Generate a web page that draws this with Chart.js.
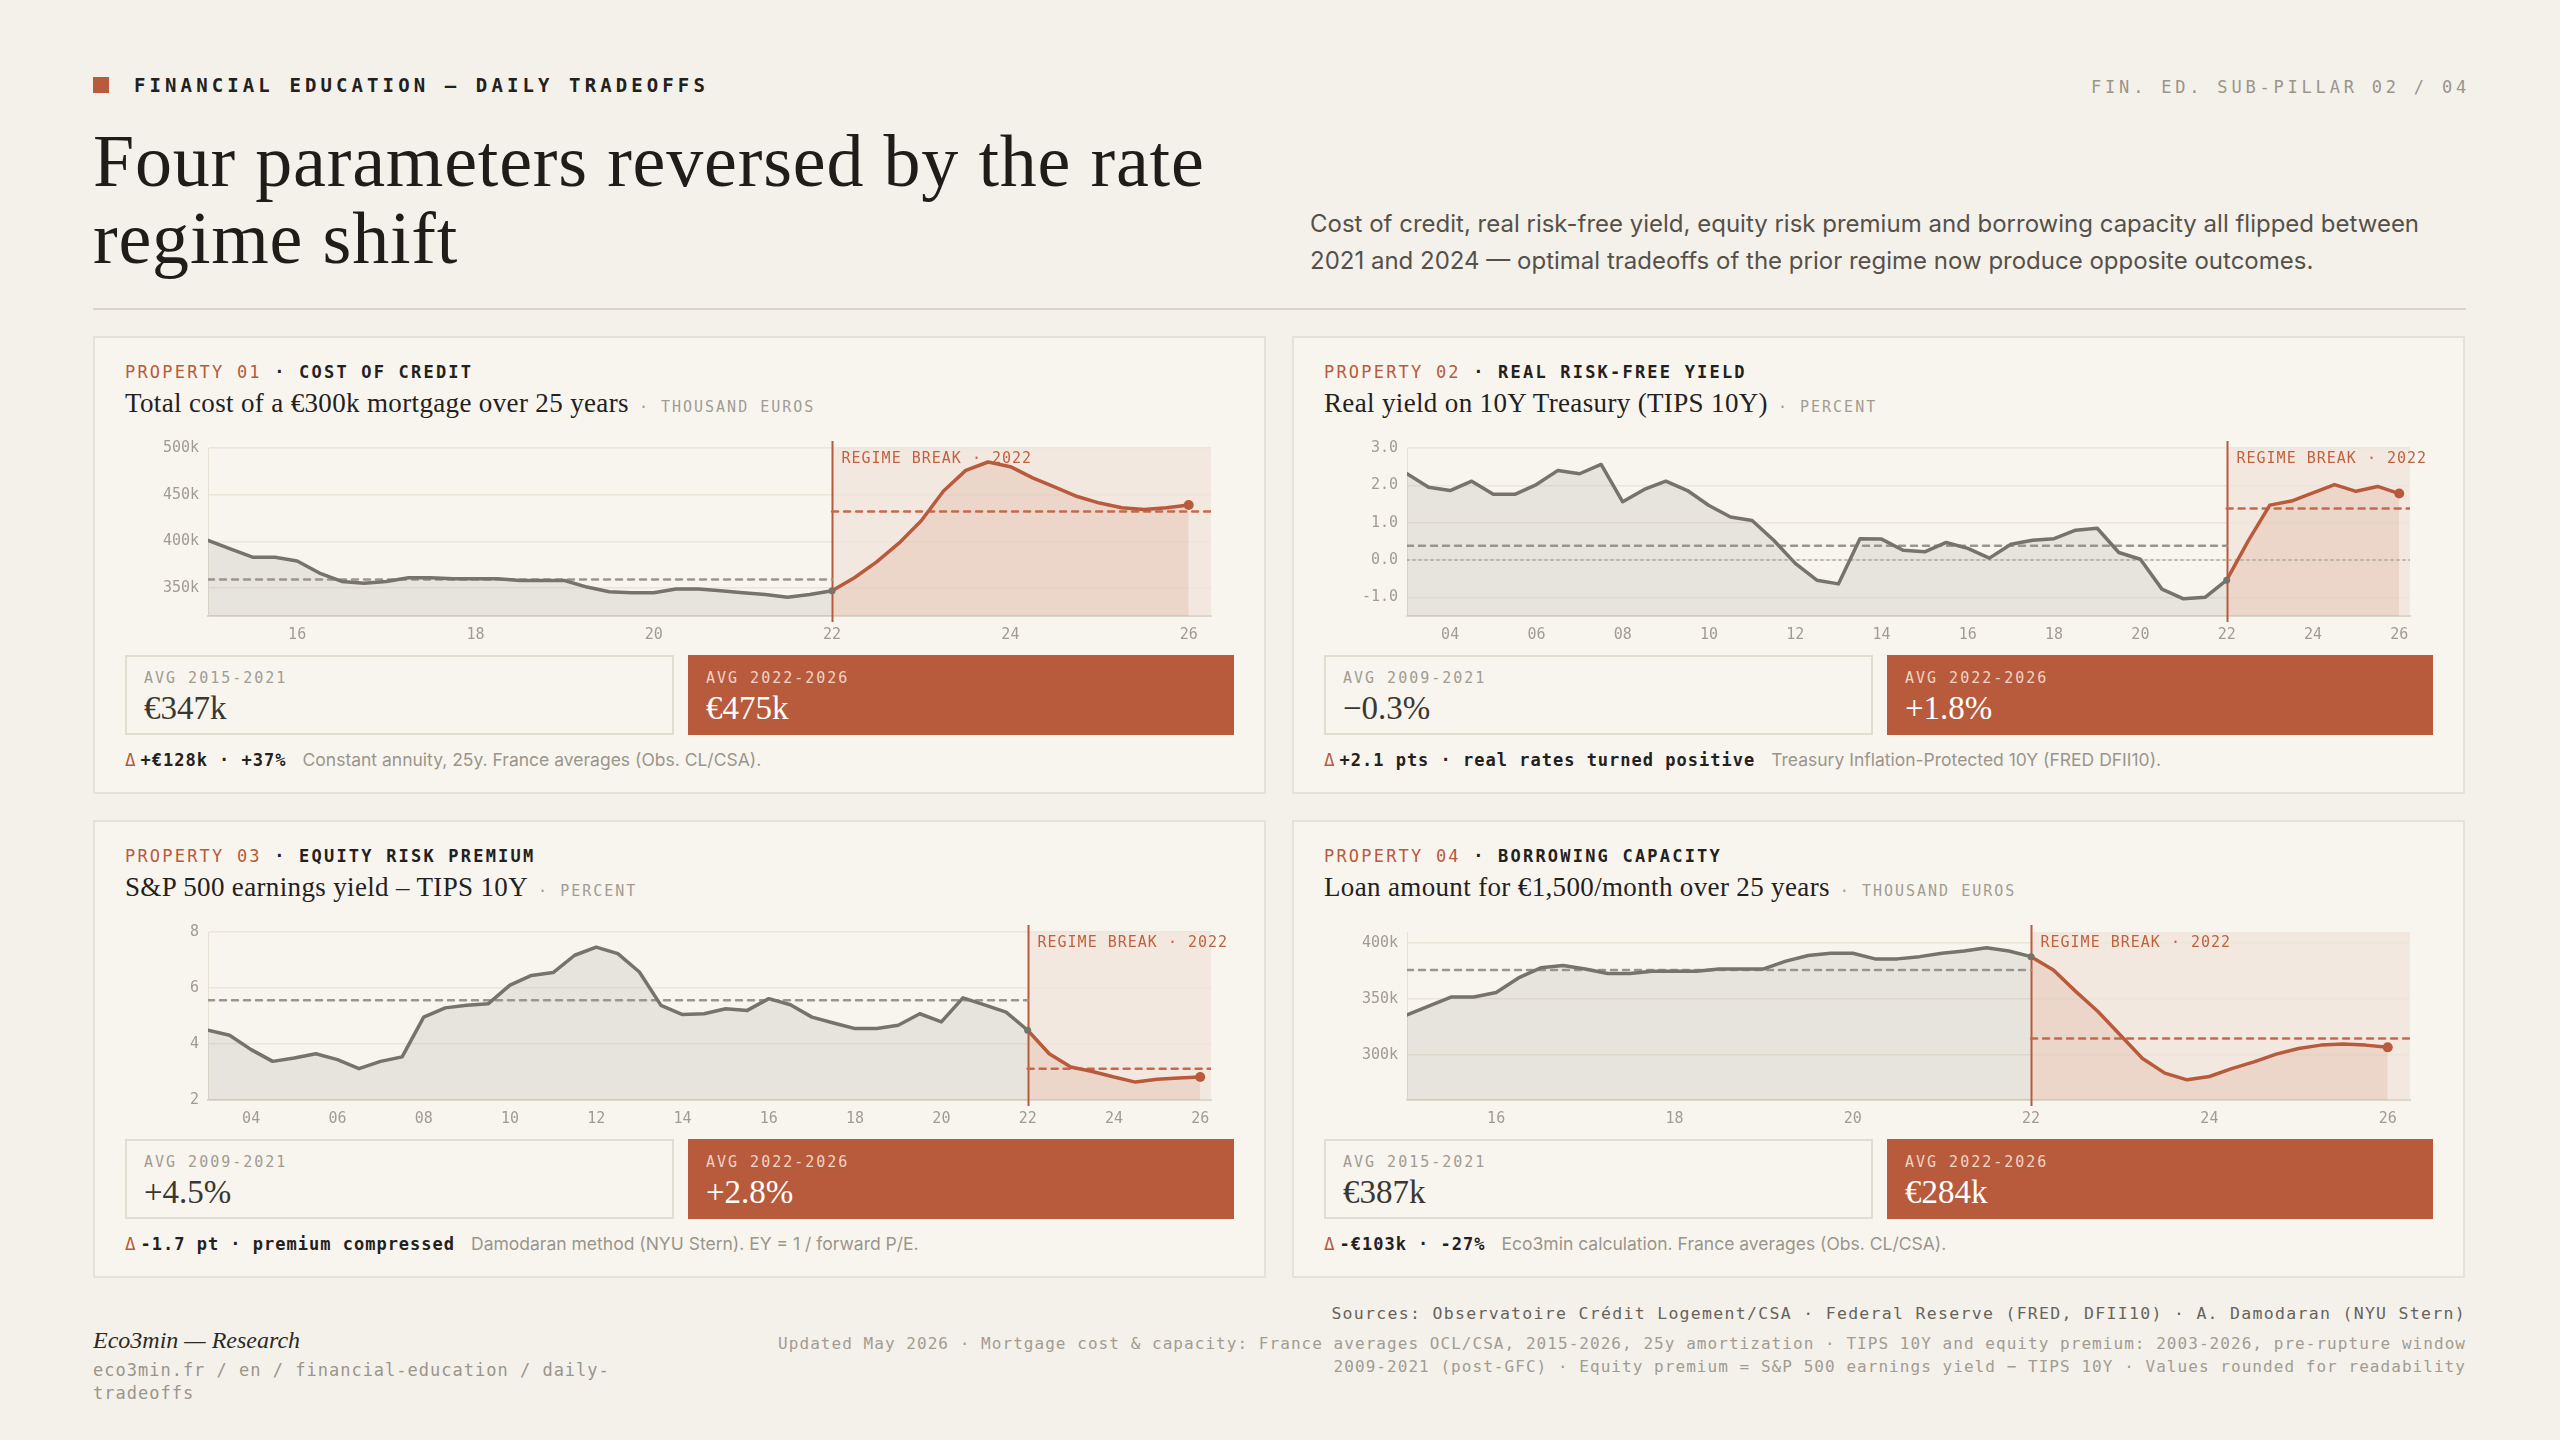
<!DOCTYPE html>
<html lang="en">
<head>
<meta charset="utf-8">
<title>Four parameters reversed by the rate regime shift</title>
<script src="https://cdn.jsdelivr.net/npm/chart.js@4.4.1/dist/chart.umd.min.js"></script>
<style>
  html, body { margin: 0; padding: 0; background: #f4f1ea; }
  body { width: 2560px; height: 1440px; position: relative; overflow: hidden; font-family: Inter, "Noto Sans", sans-serif; color: #23211d; }
  .abs { position: absolute; }
  .mono { font-family: "DejaVu Sans Mono", monospace; }
  .serif { font-family: "Liberation Serif", serif; }

  .kicker { left: 134px; top: 73px; font-size: 19px; line-height: 24px; font-weight: bold; letter-spacing: 4.1px; }
  .sq { left: 93px; top: 77px; width: 16px; height: 16px; background: #b85a3c; }
  .pillar { right: 90px; top: 76px; font-size: 17px; line-height: 22px; letter-spacing: 3.8px; color: #9a958b; }
  h1 { margin: 0; left: 93px; top: 123px; font-weight: normal; font-size: 74px; line-height: 77px; color: #1f1d1a; letter-spacing: 0.8px; }
  .lede { left: 1310px; top: 205px; font-size: 24px; line-height: 37px; color: #55514a; white-space: nowrap; }
  .rule { left: 93px; top: 308px; width: 2373px; height: 2px; background: #dcd6ca; }

  .panel { position: absolute; width: 1173px; height: 458px; background: #f8f5ef; border: 2px solid #e7e2d7; box-sizing: border-box; }
  .prop { left: 30px; top: 23px; font-size: 17px; line-height: 22px; letter-spacing: 2.2px; white-space: nowrap; }
  .prop .n { color: #b85a3c; }
  .prop .k { font-weight: bold; color: #23211d; }
  .ptitle { left: 30px; top: 49px; font-size: 27px; line-height: 32px; letter-spacing: 0.35px; color: #23211d; white-space: nowrap; }
  .ptitle .u { font-family: "DejaVu Sans Mono", monospace; font-size: 15px; letter-spacing: 2px; color: #a19c92; margin-left: 10px; }
  .cbox { left: 30px; top: 92px; width: 1115px; height: 220px; }
  .kpi { position: absolute; top: 317px; height: 80px; box-sizing: border-box; }
  .kpi.a { left: 30px; width: 549px; border: 2px solid #e2ddd1; background: #f8f5ef; }
  .kpi.b { left: 593px; width: 546px; background: #b85a3c; }
  .kpi .l { position: absolute; left: 17px; top: 12px; font-size: 15px; line-height: 18px; letter-spacing: 2px; color: #a19c92; }
  .kpi.b .l { left: 18px; top: 14px; color: #f1d3c4; }
  .kpi .v { position: absolute; left: 17px; top: 32px; font-size: 33px; line-height: 38px; color: #3a3732; }
  .kpi.b .v { left: 18px; top: 34px; color: #ffffff; }
  .delta { left: 30px; top: 411px; font-size: 17.5px; line-height: 22px; white-space: nowrap; }
  .delta .d { color: #b85a3c; font-family: "DejaVu Sans Mono", monospace; }
  .delta b { font-family: "DejaVu Sans Mono", monospace; font-weight: bold; font-size: 17px; letter-spacing: 1px; color: #23211d; }
  .delta .note { color: #9a958b; margin-left: 16px; }

  .brand { left: 93px; top: 1325px; font-size: 24px; line-height: 30px; font-style: italic; color: #2b2925; }
  .url { left: 93px; top: 1359px; width: 560px; font-size: 17px; line-height: 23px; letter-spacing: 1px; color: #9a958b; }
  .src { right: 94px; top: 1302px; font-size: 16.5px; line-height: 23px; letter-spacing: 1.3px; color: #67635b; white-space: nowrap; }
  .upd { right: 94px; top: 1332px; font-size: 16px; line-height: 23px; letter-spacing: 1.05px; color: #a19c92; text-align: right; white-space: nowrap; }
</style>
</head>
<body>

<div class="abs sq"></div>
<div class="abs mono kicker">FINANCIAL EDUCATION — DAILY TRADEOFFS</div>
<div class="abs mono pillar">FIN. ED. SUB-PILLAR 02 / 04</div>
<h1 class="abs serif">Four parameters reversed by the rate<br>regime shift</h1>
<div class="abs lede">Cost of credit, real risk-free yield, equity risk premium and borrowing capacity all flipped between<br>2021 and 2024 — optimal tradeoffs of the prior regime now produce opposite outcomes.</div>
<div class="abs rule"></div>

<div id="panels"></div>

<div class="abs serif brand">Eco3min — Research</div>
<div class="abs mono url">eco3min.fr / en / financial-education / daily-tradeoffs</div>
<div class="abs mono src">Sources: Observatoire Crédit Logement/CSA · Federal Reserve (FRED, DFII10) · A. Damodaran (NYU Stern)</div>
<div class="abs mono upd">Updated May 2026 · Mortgage cost &amp; capacity: France averages OCL/CSA, 2015-2026, 25y amortization · TIPS 10Y and equity premium: 2003-2026, pre-rupture window<br>2009-2021 (post-GFC) · Equity premium = S&amp;P 500 earnings yield − TIPS 10Y · Values rounded for readability</div>

<script>
/* ---------- datos ---------- */
// 01 coste del crédito, k€, trimestral 2015.0 -> 2022.0 / 2022.0 -> 2026.0
const costPre = [401, 392, 383, 383, 379, 366, 357, 355, 357, 361, 361, 360, 360, 360, 358, 358, 358, 351, 346, 345, 345, 349, 349, 347, 345, 343, 340, 343, 347];
const costPost = [347, 361, 378, 398, 422, 454, 476, 485, 480, 468, 458, 448, 441, 436, 434, 436, 439];
const costAvg = [359, 432];
const costYTicks = [350, 400, 450, 500];

// 02 TIPS 10Y, %, semestral 2003.0 -> 2022.0 / 2022.0 -> 2026.0
const yieldPre = [2.31, 1.95, 1.86, 2.11, 1.76, 1.76, 2.02, 2.40, 2.31, 2.56, 1.56, 1.89, 2.11, 1.86, 1.46, 1.15, 1.06, 0.53, -0.09, -0.54, -0.64, 0.57, 0.56, 0.26, 0.22, 0.47, 0.31, 0.05, 0.42, 0.53, 0.57, 0.80, 0.85, 0.20, 0.02, -0.78, -1.04, -1.00, -0.54];
const yieldPost = [-0.54, 0.51, 1.47, 1.58, 1.80, 2.02, 1.84, 1.97, 1.78];
const yieldAvg = [0.38, 1.38];
const yieldYTicks = [-1, 0, 1, 2, 3];

// 03 prima de riesgo, %, semestral
const erpPre = [4.49, 4.31, 3.80, 3.38, 3.50, 3.65, 3.44, 3.12, 3.38, 3.54, 4.96, 5.29, 5.38, 5.44, 6.10, 6.45, 6.55, 7.17, 7.46, 7.23, 6.57, 5.38, 5.05, 5.08, 5.26, 5.20, 5.62, 5.40, 4.96, 4.75, 4.55, 4.55, 4.67, 5.08, 4.79, 5.65, 5.40, 5.14, 4.49];
const erpPost = [4.49, 3.65, 3.18, 3.02, 2.82, 2.64, 2.74, 2.79, 2.82];
const erpAvg = [5.56, 3.12];
const erpYTicks = [2, 4, 6, 8];

// 04 capacidad de endeudamiento, k€, trimestral
const capPre = [336, 344, 352, 352, 356, 369, 378, 380, 377, 373, 373, 375, 375, 375, 377, 377, 377, 384, 389, 391, 391, 386, 386, 388, 391, 393, 396, 393, 388];
const capPost = [388, 376, 357, 339, 318, 297, 284, 278, 281, 288, 294, 301, 306, 309, 310, 309, 307];
const capAvg = [376, 315];
const capYTicks = [300, 350, 400];

const xTicksShort = [2016, 2018, 2020, 2022, 2024, 2026];
const xTicksLong = [2004, 2006, 2008, 2010, 2012, 2014, 2016, 2018, 2020, 2022, 2024, 2026];

/* ---------- paneles ---------- */
const PANELS = [
  { left: 93, top: 336, n: "01", k: "COST OF CREDIT", title: "Total cost of a €300k mortgage over 25 years", unit: "THOUSAND EUROS",
    la: "AVG 2015-2021", va: "€347k", lb: "AVG 2022-2026", vb: "€475k",
    delta: "+€128k · +37%", note: "Constant annuity, 25y. France averages (Obs. CL/CSA).",
    pre: costPre, post: costPost, avg: costAvg, start: 2015, step: 0.25, min: 320, max: 500, yTicks: costYTicks, xTicks: xTicksShort, fmt: (v) => v + "k" },
  { left: 1292, top: 336, n: "02", k: "REAL RISK-FREE YIELD", title: "Real yield on 10Y Treasury (TIPS 10Y)", unit: "PERCENT",
    la: "AVG 2009-2021", va: "−0.3%", lb: "AVG 2022-2026", vb: "+1.8%",
    delta: "+2.1 pts · real rates turned positive", note: "Treasury Inflation-Protected 10Y (FRED DFII10).",
    pre: yieldPre, post: yieldPost, avg: yieldAvg, start: 2003, step: 0.5, min: -1.5, max: 3, yTicks: yieldYTicks, xTicks: xTicksLong, fmt: (v) => v.toFixed(1), zero: true },
  { left: 93, top: 820, n: "03", k: "EQUITY RISK PREMIUM", title: "S&P 500 earnings yield – TIPS 10Y", unit: "PERCENT",
    la: "AVG 2009-2021", va: "+4.5%", lb: "AVG 2022-2026", vb: "+2.8%",
    delta: "-1.7 pt · premium compressed", note: "Damodaran method (NYU Stern). EY = 1 / forward P/E.",
    pre: erpPre, post: erpPost, avg: erpAvg, start: 2003, step: 0.5, min: 2, max: 8, yTicks: erpYTicks, xTicks: xTicksLong, fmt: (v) => String(v) },
  { left: 1292, top: 820, n: "04", k: "BORROWING CAPACITY", title: "Loan amount for €1,500/month over 25 years", unit: "THOUSAND EUROS",
    la: "AVG 2015-2021", va: "€387k", lb: "AVG 2022-2026", vb: "€284k",
    delta: "-€103k · -27%", note: "Eco3min calculation. France averages (Obs. CL/CSA).",
    pre: capPre, post: capPost, avg: capAvg, start: 2015, step: 0.25, min: 260, max: 410, yTicks: capYTicks, xTicks: xTicksShort, fmt: (v) => v + "k" },
];

const MONO = '"DejaVu Sans Mono", monospace';
const ORANGE = "#b85a3c";
const GRAY = "#76736a";
const X_MAX = 2026.25;

const esc = (s) => s.replace(/&/g, "&amp;");

function buildPanel(p, i) {
  const el = document.createElement("div");
  el.className = "panel";
  el.style.left = p.left + "px";
  el.style.top = p.top + "px";
  el.innerHTML =
    '<div class="abs mono prop"><span class="n">PROPERTY ' + p.n + '</span> <span class="k">· ' + p.k + '</span></div>' +
    '<div class="abs serif ptitle">' + esc(p.title) + '<span class="u">· ' + p.unit + '</span></div>' +
    '<div class="abs cbox"><canvas id="ch' + i + '"></canvas></div>' +
    '<div class="kpi a"><div class="l mono">' + p.la + '</div><div class="v serif">' + p.va + '</div></div>' +
    '<div class="kpi b"><div class="l mono">' + p.lb + '</div><div class="v serif">' + p.vb + '</div></div>' +
    '<div class="abs delta"><span class="d">Δ</span> <b>' + p.delta + '</b><span class="note">' + p.note + '</span></div>';
  document.getElementById("panels").appendChild(el);
}

/* ruptura de régimen: banda, línea vertical y etiqueta */
const regimePlugin = {
  id: "regime",
  beforeDraw(ch, args, o) {
    const { ctx, chartArea: a } = ch;
    const px = ch.scales.x.getPixelForValue(o.year);
    ctx.save();
    ctx.fillStyle = "rgba(196,110,70,0.085)";
    ctx.fillRect(px, a.top, a.right - px, a.bottom - a.top);
    ctx.restore();
  },
  beforeDatasetsDraw(ch, args, o) {
    const { ctx, chartArea: a } = ch;
    const px = Math.round(ch.scales.x.getPixelForValue(o.year)) + 0.5;
    ctx.save();
    ctx.strokeStyle = ORANGE; ctx.lineWidth = 2;
    ctx.beginPath(); ctx.moveTo(px, a.top - 7); ctx.lineTo(px, a.bottom + 6); ctx.stroke();
    ctx.fillStyle = "#c0623f";
    ctx.font = "15px " + MONO;
    ctx.letterSpacing = "1px";
    ctx.textBaseline = "middle";
    ctx.fillText("REGIME BREAK · " + o.year, px + 9, a.top + 11);
    ctx.restore();
  },
};

function regimeChart(p, i) {
  const pre = p.pre.map((v, j) => ({ x: p.start + j * p.step, y: v }));
  const brk = p.start + (p.pre.length - 1) * p.step;
  const post = p.post.map((v, j) => ({ x: brk + j * p.step, y: v }));
  const datasets = [
    { data: pre, borderColor: GRAY, borderWidth: 3.5, backgroundColor: "rgba(118,114,104,0.13)", fill: "start",
      pointRadius: pre.map((_, j) => (j === pre.length - 1 ? 3.5 : 0)), pointBackgroundColor: GRAY, pointBorderWidth: 0 },
    { data: post, borderColor: ORANGE, borderWidth: 3.5, backgroundColor: "rgba(190,100,66,0.14)", fill: "start",
      pointRadius: post.map((_, j) => (j === post.length - 1 ? 5 : 0)), pointBackgroundColor: ORANGE, pointBorderWidth: 0 },
    { data: [{ x: p.start, y: p.avg[0] }, { x: brk, y: p.avg[0] }], borderColor: "#9b968c", borderWidth: 2.5, borderDash: [6, 6], pointRadius: 0, fill: false },
    { data: [{ x: brk, y: p.avg[1] }, { x: X_MAX, y: p.avg[1] }], borderColor: "#c4694b", borderWidth: 2.5, borderDash: [6, 6], pointRadius: 0, fill: false },
  ];
  if (p.zero) datasets.push({ data: [{ x: p.start, y: 0 }, { x: X_MAX, y: 0 }], borderColor: "#aaa59a", borderWidth: 1.5, borderDash: [2, 4], pointRadius: 0, fill: false });

  new Chart(document.getElementById("ch" + i), {
    type: "line",
    data: { datasets },
    plugins: [regimePlugin],
    options: {
      responsive: true, maintainAspectRatio: false, animation: false,
      layout: { padding: { top: 17, right: 29, left: 0, bottom: 0 } },
      elements: { line: { tension: 0, borderJoinStyle: "round", borderCapStyle: "round" } },
      plugins: { legend: { display: false }, tooltip: { enabled: false }, filler: { drawTime: "beforeDatasetsDraw" }, regime: { year: brk } },
      scales: {
        x: {
          type: "linear", min: p.start, max: X_MAX,
          afterBuildTicks: (s) => { s.ticks = p.xTicks.map((v) => ({ value: v })); },
          afterFit: (s) => { s.height = 34; },
          grid: { display: false, drawTicks: false },
          border: { color: "#ddd7ca", width: 2 },
          ticks: { autoSkip: false, maxRotation: 0, padding: 10, color: "#a19c92", font: { family: MONO, size: 15 },
                   callback: (v) => String(v % 100).padStart(2, "0") },
        },
        y: {
          min: p.min, max: p.max,
          afterBuildTicks: (s) => { s.ticks = p.yTicks.map((v) => ({ value: v })); },
          afterFit: (s) => { s.width = 83; },
          grid: { color: "#ece6d9", lineWidth: 1.5, drawTicks: false },
          border: { color: "#e6e1d5", width: 1 },
          ticks: { padding: 9, color: "#a19c92", font: { family: MONO, size: 15 }, callback: (v) => p.fmt(v) },
        },
      },
    },
  });
}

document.addEventListener("DOMContentLoaded", () => {
  PANELS.forEach(buildPanel);
  PANELS.forEach(regimeChart);
});
</script>
</body>
</html>
